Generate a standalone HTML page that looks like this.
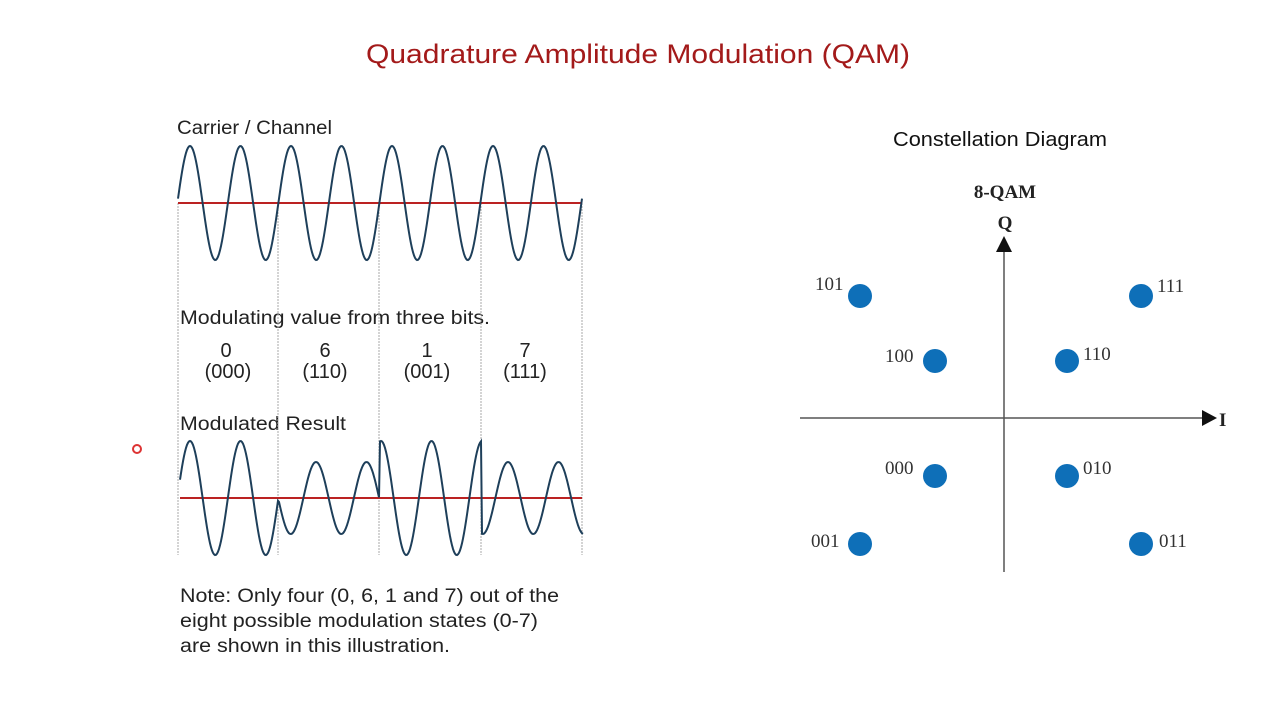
<!DOCTYPE html>
<html><head><meta charset="utf-8"><style>
html,body{margin:0;padding:0;background:#fff;}
svg{display:block;}
</style></head><body>
<svg id="s" width="1280" height="720" viewBox="0 0 1280 720" xmlns="http://www.w3.org/2000/svg">
<rect width="1280" height="720" fill="#fff"/>
<text x="366" y="63" textLength="544" lengthAdjust="spacingAndGlyphs" font-family="Liberation Sans, sans-serif" font-size="27" fill="#a31a1a">Quadrature Amplitude Modulation (QAM)</text>
<g font-family="Liberation Sans, sans-serif" font-size="19" fill="#222">
<text x="177" y="134" textLength="155" lengthAdjust="spacingAndGlyphs">Carrier / Channel</text>
<text x="180" y="324" textLength="310" lengthAdjust="spacingAndGlyphs">Modulating value from three bits.</text>
<g text-anchor="middle" font-size="20">
<text x="226" y="357">0</text><text x="228" y="378">(000)</text>
<text x="325" y="357">6</text><text x="325" y="378">(110)</text>
<text x="427" y="357">1</text><text x="427" y="378">(001)</text>
<text x="525" y="357">7</text><text x="525" y="378">(111)</text>
</g>
<text x="180" y="430" textLength="166" lengthAdjust="spacingAndGlyphs">Modulated Result</text>
<text x="180" y="602" textLength="379" lengthAdjust="spacingAndGlyphs">Note: Only four (0, 6, 1 and 7) out of the</text>
<text x="180" y="627" textLength="358" lengthAdjust="spacingAndGlyphs">eight possible modulation states (0-7)</text>
<text x="180" y="652" textLength="270" lengthAdjust="spacingAndGlyphs">are shown in this illustration.</text>
</g>
<g stroke="#aaa" stroke-width="1" stroke-dasharray="2,1">
<line x1="178" y1="203" x2="178" y2="555"/><line x1="278" y1="203" x2="278" y2="555"/>
<line x1="379" y1="203" x2="379" y2="555"/><line x1="481" y1="203" x2="481" y2="555"/>
<line x1="582" y1="203" x2="582" y2="555"/>
</g>
<line x1="178" y1="203" x2="582" y2="203" stroke="#b22" stroke-width="2"/>
<line x1="180" y1="498" x2="582" y2="498" stroke="#b22" stroke-width="2"/>
<path id="car" fill="none" stroke="#1e3f5a" stroke-width="2"/>
<path id="mod" fill="none" stroke="#1e3f5a" stroke-width="2"/>
<circle cx="137" cy="449" r="4" fill="none" stroke="#d33" stroke-width="2"/>
<text x="893" y="146" textLength="214" lengthAdjust="spacingAndGlyphs" font-family="Liberation Sans, sans-serif" font-size="20" fill="#111">Constellation Diagram</text>
<g font-family="Liberation Serif, serif" fill="#222">
<text x="1005" y="198" text-anchor="middle" font-size="19" font-weight="bold">8-QAM</text>
<text x="1005" y="229" text-anchor="middle" font-size="19" font-weight="bold">Q</text>
<text x="1219" y="426" font-size="19" font-weight="bold">I</text>
</g>
<line x1="1004" y1="250" x2="1004" y2="572" stroke="#555" stroke-width="1.5"/>
<polygon points="996,252 1012,252 1004,236" fill="#111"/>
<line x1="800" y1="418" x2="1205" y2="418" stroke="#555" stroke-width="1.5"/>
<polygon points="1202,410 1202,426 1217,418" fill="#111"/>
<g fill="#0e6fb8">
<circle cx="860" cy="296" r="12"/><circle cx="1141" cy="296" r="12"/>
<circle cx="935" cy="361" r="12"/><circle cx="1067" cy="361" r="12"/>
<circle cx="935" cy="476" r="12"/><circle cx="1067" cy="476" r="12"/>
<circle cx="860" cy="544" r="12"/><circle cx="1141" cy="544" r="12"/>
</g>
<g font-family="Liberation Serif, serif" font-size="19" fill="#333">
<text x="815" y="290">101</text><text x="1157" y="292">111</text>
<text x="885" y="362">100</text><text x="1083" y="360">110</text>
<text x="885" y="474">000</text><text x="1083" y="474">010</text>
<text x="811" y="547">001</text><text x="1159" y="547">011</text>
</g>
</svg>
<script>
function seg(x0,x1,c,A,pk){var p=[];for(var x=x0;x<=x1;x+=1){p.push(x+','+(c-A*Math.cos(2*Math.PI*(x-pk)/50.5)).toFixed(1));}return p;}
var c=seg(178,582,203,57,190);
document.getElementById('car').setAttribute('d','M'+c.join(' L'));
var m=[].concat(seg(180,278,498,57,190),seg(279,379,498,36,316),seg(380,481,498,57,381),seg(482,583,498,36,508));
document.getElementById('mod').setAttribute('d','M'+m.join(' L'));
</script>
</body></html>
